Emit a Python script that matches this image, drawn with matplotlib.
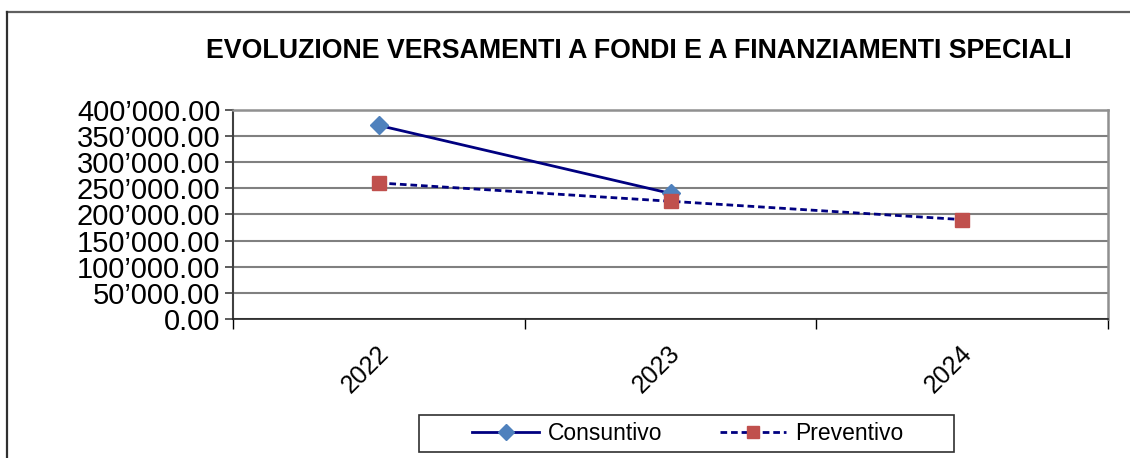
import matplotlib
matplotlib.use("Agg")
import matplotlib.pyplot as plt
from matplotlib.patches import Rectangle
from matplotlib.lines import Line2D
from matplotlib.ticker import FuncFormatter, FixedLocator
import matplotlib.transforms as mtransforms

plt.rcParams['font.family'] = ['Liberation Sans', 'DejaVu Sans']

title = "EVOLUZIONE VERSAMENTI A FONDI E A FINANZIAMENTI SPECIALI"
years = ["2022", "2023", "2024"]
consuntivo = [370000, 240000]
preventivo = [260000, 225000, 190000]
y_ticks = [0, 50000, 100000, 150000, 200000, 250000, 300000, 350000, 400000]

W, H = 1130, 458
fig = plt.figure(figsize=(W / 100, H / 100), dpi=100)

# outer border (top and left visible)
fig.add_artist(Line2D([6.5 / W, 1.0], [1 - 11.5 / H, 1 - 11.5 / H], transform=fig.transFigure,
                      color='#606060', lw=1.6))
fig.add_artist(Line2D([6.5 / W, 6.5 / W], [0, 1 - 11.5 / H], transform=fig.transFigure,
                      color='#303030', lw=1.6))

ax = fig.add_axes([233 / W, 1 - 319 / H, (1108 - 233) / W, (319 - 109.7) / H])

xc = [i + 0.5 for i in range(len(years))]
ax.plot(xc[:len(consuntivo)], consuntivo, color='#000080', lw=2.0, marker='D',
        markersize=9.5, markerfacecolor='#4F81BD', markeredgecolor='#4F81BD', zorder=3,
        label='Consuntivo')
ax.plot(xc[:len(preventivo)], preventivo, color='#000080', lw=2.0, ls=(0, (2.4, 1.4)),
        marker='s', markersize=10, markerfacecolor='#C0504D', markeredgecolor='#C0504D',
        zorder=4, label='Preventivo')

ax.set_xlim(0, len(years))
ax.set_ylim(0, 400000)
ax.set_yticks(y_ticks)
ax.yaxis.set_major_formatter(FuncFormatter(lambda v, p: format(v, ',.2f').replace(',', '\u2019')))
ax.grid(axis='y', color='#808080', lw=1.5)
ax.set_axisbelow(True)

ax.xaxis.set_major_locator(FixedLocator(xc))
ax.set_xticklabels(years)
ax.xaxis.set_minor_locator(FixedLocator(list(range(len(years) + 1))))
ax.tick_params(axis='x', which='major', length=0, pad=22, labelsize=18)
ax.tick_params(axis='x', which='minor', length=7, width=1, color='black', direction='out')
offset = mtransforms.ScaledTranslation(6 / 100, 0, fig.dpi_scale_trans)
for lbl in ax.get_xticklabels():
    lbl.set_rotation(45)
    lbl.set_ha('right')
    lbl.set_va('center')
    lbl.set_rotation_mode('anchor')
    lbl.set_transform(lbl.get_transform() + offset)
ax.tick_params(axis='y', length=6, width=1.2, color='#404040', labelsize=21, pad=3)

ax.spines['left'].set_color('#404040')
ax.spines['left'].set_linewidth(1.5)
ax.spines['bottom'].set_color('#202020')
ax.spines['bottom'].set_linewidth(1.2)
ax.spines['top'].set_color('#909090')
ax.spines['top'].set_linewidth(1.8)
ax.spines['right'].set_color('#909090')
ax.spines['right'].set_linewidth(1.8)

fig.text(639 / W, 1 - 51 / H, title, ha='center', va='center', fontsize=19.3, fontweight='bold')

# legend box
fig.add_artist(Rectangle((419 / W, 1 - 452 / H), (954 - 419) / W, (452 - 415) / H,
                         transform=fig.transFigure, fill=False, edgecolor='#303030', lw=1.2))
fig.legend(loc='center', bbox_to_anchor=(688 / W, 1 - 433.5 / H), ncol=2, frameon=False,
           fontsize=16.5, handlelength=2.9, columnspacing=2.5, handletextpad=0.4, borderpad=0.2,
           markerscale=0.85)

fig.savefig("out.png", dpi=100)
